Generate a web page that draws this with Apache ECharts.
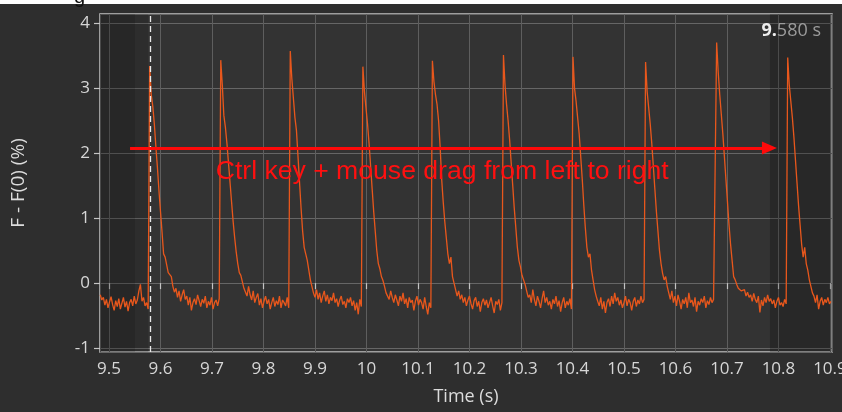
<!DOCTYPE html>
<html>
<head>
<meta charset="utf-8">
<script src="https://cdn.jsdelivr.net/npm/echarts@6/dist/echarts.min.js"></script>
<style>
html,body{margin:0;padding:0;background:#2e2e2e;}
#chart{width:842px;height:412px;}
</style>
</head>
<body>
<div id="chart"></div>
<script>
// ---- data ----
var startTime = 9.483;      // s, first sample
var sampleStep = 0.003;     // s between samples
var fluorescence = [
// before beat 1
-0.18,-0.26,-0.22,-0.34,-0.25,-0.38,-0.29,-0.21,-0.33,-0.42,-0.27,-0.36,-0.24,-0.40,-0.31,-0.22,-0.37,-0.28,-0.43,-0.30,-0.25,-0.35,-0.20,-0.32,-0.26,-0.12,-0.02,-0.28,-0.22,-0.35,-0.30,-0.40,
// beat 1
3.34,2.90,2.72,2.45,2.10,1.78,1.42,1.10,0.78,0.45,0.40,0.38,0.16,0.14,0.10,-0.05,-0.14,
-0.08,-0.22,-0.12,-0.28,-0.18,-0.10,-0.25,-0.20,-0.34,-0.22,-0.42,-0.30,-0.24,-0.33,-0.18,-0.27,-0.36,-0.25,-0.31,-0.20,-0.38,-0.28,-0.34,-0.22,-0.40,-0.30,-0.26,-0.35,-0.24,
// beat 2
3.43,3.05,2.58,2.40,2.15,1.85,1.55,1.25,0.95,0.70,0.48,0.30,0.16,0.12,0.02,-0.08,-0.10,
-0.20,-0.05,-0.18,-0.26,-0.12,-0.30,-0.22,-0.16,-0.34,-0.24,-0.38,-0.28,-0.20,-0.32,-0.25,-0.40,-0.30,-0.22,-0.36,-0.27,-0.33,-0.20,-0.38,-0.26,-0.30,-0.35,-0.22,-0.38,
// beat 3
3.57,3.15,2.85,2.55,2.35,1.95,1.55,1.15,0.80,0.55,0.45,0.35,0.20,0.05,-0.05,-0.15,-0.22,
-0.10,-0.25,-0.15,-0.30,-0.20,-0.12,-0.28,-0.18,-0.32,-0.22,-0.27,-0.15,-0.30,-0.24,-0.36,-0.26,-0.20,-0.33,-0.28,-0.38,-0.24,-0.30,-0.22,-0.35,-0.27,-0.42,-0.30,-0.48,-0.25,-0.36,
// beat 4
3.33,2.95,2.70,2.45,2.15,1.80,1.45,1.10,0.80,0.50,0.30,0.22,0.10,0.04,-0.05,-0.15,-0.18,
-0.25,-0.12,-0.22,-0.30,-0.18,-0.26,-0.35,-0.20,-0.28,-0.15,-0.32,-0.24,-0.38,-0.22,-0.30,-0.26,-0.42,-0.28,-0.20,-0.34,-0.25,-0.30,-0.40,-0.22,-0.36,-0.48,-0.30,-0.38,
// beat 5
3.42,3.10,2.90,2.75,2.50,2.10,1.60,1.25,0.95,0.70,0.45,0.30,0.40,0.10,0.00,-0.10,-0.20,
-0.12,-0.25,-0.18,-0.30,-0.22,-0.35,-0.26,-0.20,-0.32,-0.40,-0.27,-0.22,-0.36,-0.28,-0.44,-0.30,-0.24,-0.34,-0.26,-0.38,-0.30,-0.22,-0.35,-0.46,-0.28,-0.33,-0.25,-0.42,-0.30,
// beat 6
3.51,3.05,2.75,2.50,2.20,1.85,1.50,1.15,0.85,0.55,0.35,0.25,0.12,0.15,-0.02,-0.12,-0.22,
-0.18,-0.30,-0.10,-0.25,-0.35,-0.20,-0.28,-0.38,-0.24,-0.12,-0.30,-0.22,-0.34,-0.28,-0.40,-0.25,-0.32,-0.20,-0.36,-0.27,-0.44,-0.30,-0.22,-0.38,-0.28,-0.34,-0.24,-0.40,
// beat 7
3.48,3.00,2.80,2.55,2.30,1.95,1.60,1.20,0.85,0.55,0.40,0.45,0.20,0.05,-0.10,-0.20,-0.28,
-0.35,-0.22,-0.40,-0.28,-0.46,-0.30,-0.24,-0.36,-0.20,-0.32,-0.15,-0.28,-0.22,-0.34,-0.26,-0.38,-0.30,-0.20,-0.35,-0.25,-0.30,-0.42,-0.28,-0.22,-0.36,-0.26,-0.32,-0.20,-0.30,-0.25,
// beat 8
3.40,2.95,2.70,2.45,2.15,1.80,1.45,1.10,0.80,0.50,0.30,0.15,0.05,0.10,-0.05,-0.15,-0.25,
-0.12,-0.30,-0.20,-0.35,-0.18,-0.28,-0.40,-0.25,-0.32,-0.22,-0.38,-0.15,-0.30,-0.26,-0.36,-0.22,-0.44,-0.28,-0.34,-0.24,-0.30,-0.20,-0.38,-0.27,-0.33,-0.22,-0.30,-0.25,-0.28,
// beat 9
3.70,3.25,2.90,2.60,2.30,1.95,1.60,1.25,0.90,0.60,0.35,0.10,0.05,-0.02,-0.08,-0.05,-0.12,
-0.15,-0.10,-0.20,-0.14,-0.22,-0.18,-0.28,-0.16,-0.25,-0.30,-0.20,-0.45,-0.26,-0.35,-0.22,-0.30,-0.18,-0.28,-0.24,-0.32,-0.26,-0.38,-0.28,-0.22,-0.34,-0.30,-0.36,-0.25,-0.32,
// beat 10
3.47,3.05,2.80,2.55,2.25,1.90,1.55,1.20,0.90,0.60,0.40,0.55,0.30,0.20,0.05,-0.05,-0.15,
-0.20,-0.30,-0.18,-0.40,-0.28,-0.22,-0.34,-0.25,-0.30,-0.22,-0.32,-0.28
];
var xRange = [9.4825, 10.904];
var yRange = [-1.06, 4.14];
var cursorTime = 9.58;
var cursorLabelBold = '9.';
var cursorLabelRest = '580 s';
var shadeDark = [9.4825, 9.5505];
var shadeMid = [9.5505, 9.576];
var shadeRight = [10.7835, 10.904];
var arrowStart = [9.5408, 2.08];
var arrowEnd = [10.7825, 2.08];
var noteText = 'Ctrl key + mouse drag from left to right';
var notePos = [10.147, 1.71];
var xName = 'Time (s)';
var yName = 'F - F(0) (%)';

var seriesData = fluorescence.map(function (v, i) {
  return [startTime + i * sampleStep, v];
});

var labelFont = '"Open Sans", "Noto Sans", sans-serif';
var chart = echarts.init(document.getElementById('chart'), null, {renderer: 'canvas'});
chart.setOption({
  backgroundColor: '#2e2e2e',
  animation: false,
  grid: {
    left: 100, right: 10, top: 14, bottom: 60,
    outerBoundsMode: 'none', containLabel: false,
    show: true, backgroundColor: '#333333',
    borderColor: '#c4c4c4', borderWidth: 1.5
  },
  xAxis: {
    type: 'value', min: xRange[0], max: xRange[1],
    minInterval: 0.1, maxInterval: 0.1,
    name: xName, nameLocation: 'middle', nameGap: 36,
    nameTextStyle: {color: '#dcdcdc', fontSize: 18, fontFamily: labelFont},
    axisLine: {show: false},
    axisTick: {show: true, length: 6, lineStyle: {color: '#c4c4c4', width: 1.2}},
    axisLabel: {
      color: '#d6d6d6', fontSize: 17, fontFamily: labelFont, margin: 9,
      showMinLabel: false, showMaxLabel: false, hideOverlap: false,
      formatter: function (v) { return String(+v.toFixed(1)); }
    },
    splitLine: {show: true, lineStyle: {color: '#5e5e5e', width: 1}}
  },
  yAxis: {
    type: 'value', min: yRange[0], max: yRange[1],
    minInterval: 1, maxInterval: 1,
    name: yName, nameLocation: 'middle', nameGap: 72,
    nameTextStyle: {color: '#dcdcdc', fontSize: 19, fontFamily: labelFont},
    axisLine: {show: false},
    axisTick: {show: true, length: 6, lineStyle: {color: '#c4c4c4', width: 1.2}},
    axisLabel: {
      color: '#d6d6d6', fontSize: 17, fontFamily: labelFont, margin: 10,
      showMinLabel: false, showMaxLabel: false,
      formatter: function (v) { return String(Math.round(v)); }
    },
    splitLine: {show: true, lineStyle: {color: '#666666', width: 1}}
  },
  series: [
    {
      type: 'line', data: seriesData, showSymbol: false, z: 2,
      lineStyle: {color: '#e8571c', width: 1.3},
      itemStyle: {color: '#e8571c'}
    },
    {
      type: 'line', data: [], z: 5, silent: true,
      markArea: {
        silent: true,
        data: [
          [{xAxis: shadeDark[0], itemStyle: {color: 'rgba(0,0,0,0.22)'}}, {xAxis: shadeDark[1]}],
          [{xAxis: shadeMid[0], itemStyle: {color: 'rgba(0,0,0,0.10)'}}, {xAxis: shadeMid[1]}],
          [{xAxis: shadeRight[0], itemStyle: {color: 'rgba(0,0,0,0.20)'}}, {xAxis: shadeRight[1]}]
        ]
      },
      markLine: {
        silent: true, symbol: 'none', animation: false,
        label: {show: false},
        data: [
          {xAxis: cursorTime, lineStyle: {color: '#e8e8e8', type: [6, 4], width: 1.3}},
          [
            {coord: arrowStart, symbol: 'none', lineStyle: {color: '#ff0a0a', width: 3, type: 'solid'}},
            {coord: arrowEnd, symbol: 'triangle', symbolSize: [13, 15]}
          ]
        ]
      },
      markPoint: {
        silent: true,
        data: [{
          coord: notePos, symbol: 'rect', symbolSize: 1,
          itemStyle: {color: 'rgba(0,0,0,0)'},
          label: {
            show: true, position: 'inside', formatter: noteText,
            color: '#ff1010', fontSize: 26.6, fontFamily: '"Liberation Sans", Arial, sans-serif',
            textShadowColor: 'rgba(230,230,230,0.55)', textShadowOffsetX: 1, textShadowOffsetY: 1, textShadowBlur: 0
          }
        }]
      }
    }
  ],
  graphic: [
    {type: 'rect', left: 0, top: 0, shape: {width: 842, height: 4}, style: {fill: '#ffffff'}, z: 100},
    {type: 'text', left: 74, top: -13, style: {text: 'g', fill: '#111', font: '20px "Liberation Sans", Arial'}, z: 101},
    {
      type: 'text', right: 21, top: 22, z: 50,
      style: {
        text: '{b|' + cursorLabelBold + '}{r|' + cursorLabelRest + '}',
        rich: {
          b: {fill: '#ededed', fontSize: 18, fontWeight: 'bold', fontFamily: labelFont},
          r: {fill: '#9c9c9c', fontSize: 18, fontFamily: labelFont}
        }
      }
    }
  ]
});
</script>
</body>
</html>
